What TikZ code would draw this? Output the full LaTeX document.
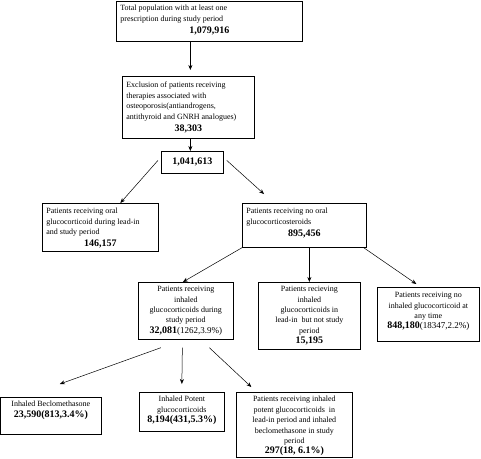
\documentclass[tikz,border=0pt]{standalone}
\usepackage{fontspec}
\setmainfont{Liberation Serif}
\usetikzlibrary{arrows.meta,calc}
\newcommand\bxt[3]{\begin{minipage}[t][#2pt][t]{#1pt}\vspace*{3pt}#3\end{minipage}}
\newcommand\numf{\fontsize{10}{12}\selectfont\bfseries}
\newcommand\parf{\fontsize{9}{12}\selectfont\mdseries}
\begin{document}
\begin{tikzpicture}[x=1pt,y=-1pt,
  box/.style={draw, line width=0.7pt, inner sep=0pt, anchor=north west, font=\fontsize{8}{10.4}\selectfont},
  arr/.style={line width=0.5pt, -{Stealth[length=5pt,width=4pt]}}]
\useasboundingbox (0,0) rectangle (481,458);
\node[box, minimum width=186pt, minimum height=40pt] (b1) at (116,1)
  {\bxt{178}{38}{\raggedright Total population with at least one\\ prescription during study period\par {\centering\numf 1,079,916\par}}};
\node[box, minimum width=132pt, minimum height=62pt] (b2) at (122,76)
  {\bxt{124}{60}{\vspace*{2pt}\raggedright Exclusion of patients receiving\\ therapies associated with\\ osteoporosis(antiandrogens,\\ antithyroid and GNRH analogues)\par {\centering\numf 38,303\par}}};
\node[box, minimum width=62pt, minimum height=22pt, font=\numf] (b3) at (161,151) {1,041,613};
\node[box, minimum width=116pt, minimum height=48pt] (b4) at (42,203)
  {\bxt{108}{46}{\vspace*{1pt}\raggedright Patients receiving oral\\ glucocorticoid during lead-in\\ and study period\par {\centering\numf 146,157\par}}};
\node[box, minimum width=124pt, minimum height=44pt] (b5) at (242,203)
  {\bxt{116}{42}{\vspace*{1pt}\raggedright Patients receiving no oral\\ glucocorticosteroids\par {\centering\numf 895,456\par}}};
\node[box, minimum width=95pt, minimum height=57pt] (b6) at (138,282)
  {\bxt{89}{55}{\centering Patients receiving\\ inhaled\\ glucocorticoids during\\ study period\\ {\numf 32,081}{\parf(1262,3.9\%)}\par}};
\node[box, minimum width=102pt, minimum height=67pt] (b7) at (258,282)
  {\bxt{96}{65}{\centering Patients recieving\\ inhaled\\ glucocorticoids in\\ lead-in\ \ but not study\\ period\\ {\numf 15,195}\par}};
\node[box, minimum width=102pt, minimum height=54pt] (b8) at (377,287)
  {\bxt{96}{52}{\vspace*{1pt}\centering Patients receiving no\\ inhaled glucocorticoid at\\ any time\\ {\numf 848,180}{\parf(18347,2.2\%)}\par}};
\node[box, minimum width=100pt, minimum height=37pt] (b9) at (0.5,397)
  {\bxt{94}{35}{\centering Inhaled Beclomethasone\\ {\numf 23,590(813,3.4\%)}\par}};
\node[box, minimum width=85pt, minimum height=39pt] (b10) at (139,392)
  {\bxt{79}{37}{\centering Inhaled Potent\\ glucocorticoids\\ {\numf 8,194(431,5.3\%)}\par}};
\node[box, minimum width=116pt, minimum height=65pt] (b11) at (236,392)
  {\bxt{110}{63}{\centering Patients receiving inhaled\\ potent glucocorticoids\ \ in\\ lead-in period and inhaled\\ beclomethasone in study\\ period\\ {\numf 297(18, 6.1\%)}\par}};
% connectors
\draw[arr] ($(b1.south)+(-19,0)$) -- ($(b2.north)+(2,-6)$);
\draw[arr] ($(b2.south)+(2,0)$) -- ($(b3.north)+(-2,0)$);
\draw[arr] ($(b3.west)+(-3,-2)$) -- ($(b4.north)+(20,0)$);
\draw[arr] ($(b3.east)+(3,-2)$) -- ($(b5.north west)+(22,-9)$);
\draw[arr] (b5.south west) -- ($(b6.north)+(-3,0)$);
\draw[arr] (b7.north |- b5.south) -- (b7.north);
\draw[arr] ($(b5.south east)+(-3,0)$) -- ($(b8.north)+(-12,-3)$);
\draw[arr] ($(b6.south)+(-25,8)$) -- ($(b9.north)+(9,-13)$);
\draw[arr] ($(b6.south)+(-3.5,8)$) -- ($(b10.north)+(0,-8)$);
\draw[arr] ($(b6.south)+(23.5,8)$) -- ($(b11.north)+(-43,-5)$);
\end{tikzpicture}
\end{document}
